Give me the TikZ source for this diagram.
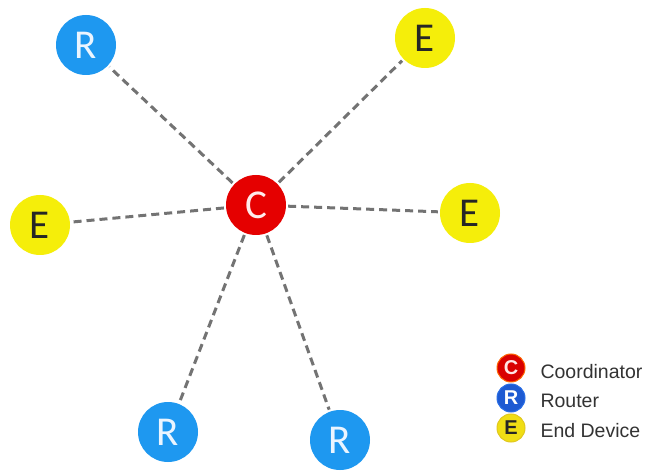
\documentclass[tikz,border=0pt]{standalone}
\usepackage{fontspec}
\setmainfont{Liberation Sans}
\newfontfamily\nodefont{Carlito}
\begin{document}
\begin{tikzpicture}[x=1pt,y=-1pt,
  link/.style={draw=black!55,line width=3pt,dash pattern=on 8pt off 5pt},
  dev/.style={circle,minimum size=60pt,inner sep=0pt,font=\nodefont\fontsize{41}{41}\selectfont},
  coord/.style={dev,fill=red!90!black,text=red!8},
  router/.style={dev,fill={rgb,255:red,30;green,152;blue,240},text={rgb,255:red,235;green,245;blue,255}},
  enddev/.style={dev,fill={rgb,255:red,245;green,238;blue,10},text=black!85},
  key/.style={circle,minimum size=28pt,inner sep=0pt,line width=1pt,font=\fontsize{20}{20}\selectfont\bfseries},
  keytext/.style={anchor=west,font=\fontsize{19.5}{19.5}\selectfont,text=black!80}]
\useasboundingbox (0,0) rectangle (646,473);
\fill[white] (0,0) rectangle (646,473);

% network nodes
\node[coord]   (c)  at (256,205) {C};
\node[router]  (r1) at (86,45)   {R};
\node[enddev]  (e1) at (425,38)  {E};
\node[enddev]  (e2) at (40,225)  {E};
\node[enddev]  (e3) at (470,213) {E};
\node[router]  (r2) at (168,432) {R};
\node[router]  (r3) at (340,440) {R};

% star links to the coordinator
\foreach \n in {r1,e1,e2,e3,r2,r3}
  \draw[link,shorten <=2pt,shorten >=2pt] (c) -- (\n);

% legend
\node[key,fill=red!85!black,draw=orange!80!red,text=red!10] (kc) at (511,368) {C};
\node[key,fill={rgb,255:red,30;green,90;blue,210},draw={rgb,255:red,40;green,110;blue,230},text=white] (kr) at (511,398) {R};
\node[key,fill={rgb,255:red,240;green,222;blue,20},draw={rgb,255:red,225;green,200;blue,30},text=black!85] (ke) at (511,428) {E};
\node[keytext] (tc) at (537,372) {Coordinator};
\node[keytext] (tr) at (537,401) {Router};
\node[keytext] (te) at (537,431) {End Device};
\end{tikzpicture}
\end{document}
